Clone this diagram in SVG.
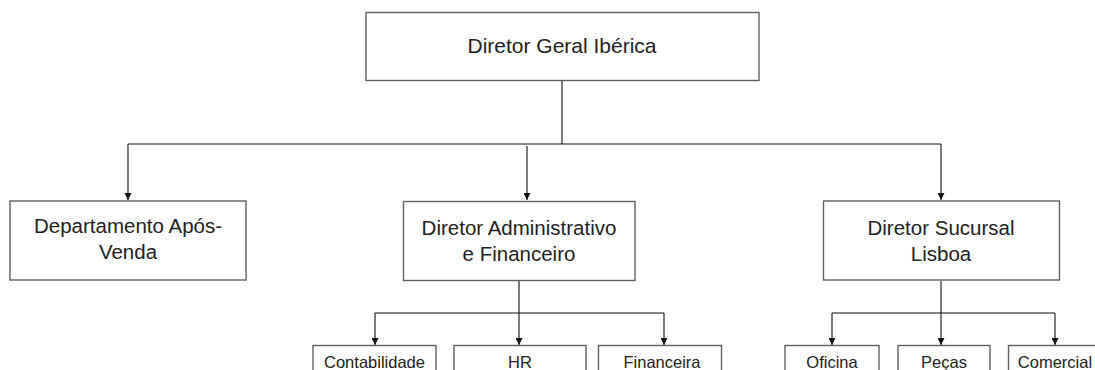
<svg xmlns="http://www.w3.org/2000/svg" width="1095" height="370" viewBox="0 0 1095 370">
<style>
.box{fill:#fff;stroke:#606060;stroke-width:1.4}
.t{font-family:"Liberation Sans",Arial,sans-serif;fill:#222;text-anchor:middle}
.big{font-size:20.5px}
.top{font-size:21px}
.sm{font-size:16.5px}
.c{fill:none;stroke:#111;stroke-width:1.1}
</style>
<defs>
<marker id="ah" viewBox="0 0 10 10" refX="10" refY="5" markerWidth="7" markerHeight="7" markerUnits="userSpaceOnUse" orient="auto">
<path d="M0,0 L10,5 L0,10 Z" fill="#111"/>
</marker>
</defs>
<rect width="1095" height="370" fill="#fff"/>
<g id="connectors">
<path class="c" d="M562,81 V144"/>
<path class="c" d="M128,144 H941"/>
<path class="c" d="M128,144 V200" marker-end="url(#ah)"/>
<path class="c" d="M527,146 V200" marker-end="url(#ah)"/>
<path class="c" d="M941,144 V200" marker-end="url(#ah)"/>
<path class="c" d="M519,281 V345" marker-end="url(#ah)"/>
<path class="c" d="M375,313 H664"/>
<path class="c" d="M375,313 V345" marker-end="url(#ah)"/>
<path class="c" d="M664,313 V345" marker-end="url(#ah)"/>
<path class="c" d="M941,281 V345" marker-end="url(#ah)"/>
<path class="c" d="M832,313 H1055"/>
<path class="c" d="M832,313 V345" marker-end="url(#ah)"/>
<path class="c" d="M1055,313 V345" marker-end="url(#ah)"/>
</g>
<g id="n-geral">
<rect class="box" x="366" y="12.5" width="393" height="68"/>
<text class="t top" x="562" y="53">Diretor Geral Ibérica</text>
</g>
<g id="n-apos">
<rect class="box" x="10" y="201" width="236" height="79"/>
<text class="t big" x="128" y="233">Departamento Após-</text>
<text class="t big" x="128" y="259">Venda</text>
</g>
<g id="n-admin">
<rect class="box" x="403.5" y="201.5" width="231.5" height="79"/>
<text class="t big" x="519" y="235">Diretor Administrativo</text>
<text class="t big" x="519" y="261">e Financeiro</text>
</g>
<g id="n-lisboa">
<rect class="box" x="823.5" y="201" width="236" height="79"/>
<text class="t big" x="941" y="235">Diretor Sucursal</text>
<text class="t big" x="941" y="261">Lisboa</text>
</g>
<g id="n-contab">
<rect class="box" x="313" y="345.5" width="123" height="40"/>
<text class="t sm" x="374.5" y="367.5">Contabilidade</text>
</g>
<g id="n-hr">
<rect class="box" x="454" y="345.5" width="132" height="40"/>
<text class="t sm" x="520" y="367.5">HR</text>
</g>
<g id="n-financeira">
<rect class="box" x="598.5" y="345.5" width="123" height="40"/>
<text class="t sm" x="662" y="367.5">Financeira</text>
</g>
<g id="n-oficina">
<rect class="box" x="785" y="345.5" width="94" height="40"/>
<text class="t sm" x="832" y="367.5">Oficina</text>
</g>
<g id="n-pecas">
<rect class="box" x="898" y="345.5" width="92" height="40"/>
<text class="t sm" x="944" y="367.5">Peças</text>
</g>
<g id="n-comercial">
<rect class="box" x="1008.5" y="345.5" width="94" height="40"/>
<text class="t sm" x="1055" y="367.5">Comercial</text>
</g>
</svg>
